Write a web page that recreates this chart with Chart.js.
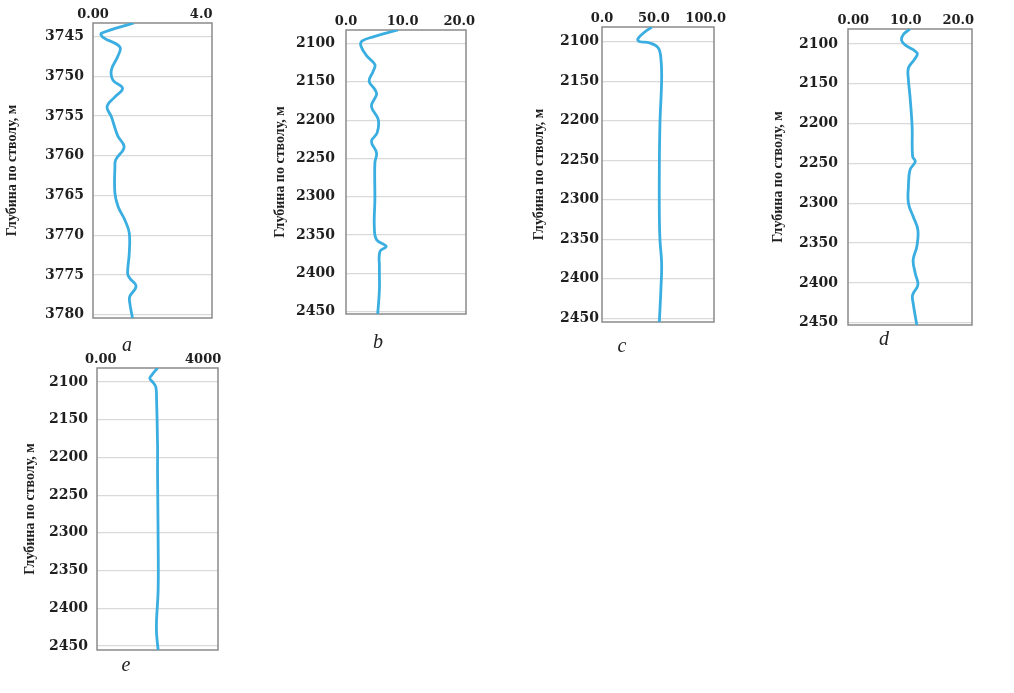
<!DOCTYPE html>
<html>
<head>
<meta charset="utf-8">
<script src="https://cdn.jsdelivr.net/npm/chart.js@4.4.1/dist/chart.umd.min.js"></script>
<style>
  html, body { margin:0; padding:0; background:#ffffff; }
  body { width:1014px; height:693px; position:relative; overflow:hidden; }
  canvas { position:absolute; }
  .lbl { position:absolute; font-family:"Liberation Serif", "Times New Roman", serif; font-style:italic; font-size:20px; color:#222; transform:translate(-50%,-50%); line-height:1; }
</style>
</head>
<body>
<canvas id="ca"></canvas>
<canvas id="cb"></canvas>
<canvas id="cc"></canvas>
<canvas id="cd"></canvas>
<canvas id="ce"></canvas>
<div class="lbl" style="left:127px;top:344px;">a</div>
<div class="lbl" style="left:378px;top:341px;">b</div>
<div class="lbl" style="left:622px;top:345px;">c</div>
<div class="lbl" style="left:884px;top:338px;">d</div>
<div class="lbl" style="left:126px;top:664px;">e</div>
<script>
// ---------- data ----------
const yTitle = "Глубина по стволу, м";

const depthA = [3743.3, 3744.6, 3745.1, 3746.3, 3747.4, 3749.2, 3750.5, 3751.5, 3752.6, 3753.8, 3755.1, 3756.8, 3757.6, 3758.9, 3760.5, 3761.4, 3764.7, 3766.4, 3768.1, 3769.7, 3772.3, 3774.8, 3775.4, 3776.4, 3777.7, 3778.5, 3780.4];
const valueA = [1.51, 0.31, 0.37, 0.99, 0.93, 0.68, 0.74, 1.09, 0.81, 0.52, 0.68, 0.84, 0.93, 1.15, 0.84, 0.81, 0.81, 0.93, 1.18, 1.34, 1.34, 1.28, 1.36, 1.59, 1.36, 1.36, 1.46];
const yTicksA = [3745, 3750, 3755, 3760, 3765, 3770, 3775, 3780];
const xTicksA = [0, 4];
const xLabelsA = ["0.00", "4.0"];

const depthB = [2082.4, 2091.3, 2097, 2103.6, 2116.6, 2127.5, 2136.2, 2149.3, 2160.1, 2166.6, 2182, 2199.3, 2216.7, 2227.6, 2242.8, 2255.8, 2303.8, 2338.6, 2356, 2364.8, 2371.3, 2390.9, 2421.3, 2453];
const valueB = [9.2, 4.8, 2.8, 2.65, 3.7, 5.1, 4.8, 4.1, 5.1, 5.4, 4.5, 5.7, 5.5, 4.5, 5.4, 5.1, 5.1, 5.0, 5.4, 7.1, 6.0, 5.9, 5.9, 5.6];
const depthC = [2081.4, 2089, 2096.6, 2099.7, 2101.7, 2108, 2122.9, 2148.2, 2203, 2258, 2321.6, 2351, 2380.7, 2410.3, 2454.7];
const valueC = [48, 40, 34.5, 36, 46, 54.3, 56.9, 57.5, 55.9, 55.3, 55.3, 55.9, 57.5, 56.9, 55.3];
const depthD = [2081.1, 2088.3, 2095.4, 2100.8, 2107.1, 2112.2, 2119.7, 2130.1, 2144.8, 2165.8, 2203.5, 2241.3, 2247.6, 2258, 2279, 2299.9, 2316.7, 2333.4, 2354.4, 2371.1, 2387.9, 2402.6, 2415.1, 2425.6, 2452.9];
const valueD = [10.8, 9.5, 9.2, 9.8, 11.4, 12.2, 11.6, 10.5, 10.5, 10.8, 11.2, 11.3, 11.8, 10.8, 10.5, 10.5, 11.4, 12.3, 12.1, 11.4, 11.8, 12.3, 11.3, 11.4, 12.1];
const depthE = [2081.5, 2091.2, 2095.5, 2100.8, 2106.6, 2122, 2183.9, 2221.3, 2309.7, 2375.9, 2415.6, 2433.2, 2455.3];
const valueE = [2217, 1982, 1915, 2044, 2150, 2178, 2217, 2217, 2240, 2240, 2178, 2178, 2240];

const yTicksWell = [2100, 2150, 2200, 2250, 2300, 2350, 2400, 2450];
const xTicksB = [0, 10, 20];
const xLabelsB = ["0.0", "10.0", "20.0"];
const xTicksC = [0, 50, 100];
const xLabelsC = ["0.0", "50.0", "100.0"];
const xTicksD = [0, 10, 20];
const xLabelsD = ["0.00", "10.0", "20.0"];
const xTicksE = [0, 4000];
const xLabelsE = ["0.00", "4000"];

// ---------- layout / style ----------
const LINE_COLOR = '#3aaee0';
const GRID_COLOR = '#d9d9d9';
const FRAME_COLOR = '#8a8a8a';

const framePlugin = {
  id: 'frame',
  beforeDatasetsDraw(chart) {
    const {ctx, chartArea: a} = chart;
    ctx.save();
    ctx.strokeStyle = FRAME_COLOR;
    ctx.lineWidth = 1.5;
    ctx.strokeRect(a.left, a.top, a.right - a.left, a.bottom - a.top);
    ctx.restore();
  }
};

function makePanel(id, depths, values, yTicks, xTicks, xLabels, g) {
  const canvas = document.getElementById(id);
  const boxW = g.R - g.L, boxH = g.B - g.T;
  const Wy = g.L - g.cl, Hx = 20;
  const W = Wy + boxW + 20, H = Hx + boxH + 5;
  canvas.width = W; canvas.height = H;
  canvas.style.left = g.cl + 'px';
  canvas.style.top = (g.T - Hx) + 'px';
  canvas.style.width = W + 'px';
  canvas.style.height = H + 'px';
  const pts = depths.map((d, i) => ({x: values[i], y: d}));
  new Chart(canvas, {
    type: 'scatter',
    data: { datasets: [{
      data: pts, showLine: true, borderColor: LINE_COLOR, borderWidth: 2.8,
      pointRadius: 0, tension: 0.4, fill: false
    }]},
    options: {
      responsive: false, animation: false, devicePixelRatio: 1,
      layout: { padding: { left: 0, top: 0, right: 20, bottom: 5 } },
      plugins: { legend: { display: false }, tooltip: { enabled: false } },
      scales: {
        x: {
          type: 'linear', position: 'top', min: g.xmin, max: g.xmax,
          afterBuildTicks: s => { s.ticks = xTicks.map(v => ({value: v})); },
          afterFit: s => { s.height = Hx; s.paddingLeft = 0; s.paddingRight = 0; s.paddingTop = 0; s.paddingBottom = 0; },
          grid: { display: false, drawTicks: false },
          border: { display: false },
          ticks: {
            autoSkip: false, maxRotation: 0, padding: 1,
            font: { family: 'DejaVu Serif', weight: 'bold', size: 13 },
            color: '#1f1f1f',
            callback: (v, i) => xLabels[i]
          }
        },
        y: {
          type: 'linear', position: 'left', reverse: true, min: g.ymin, max: g.ymax,
          afterBuildTicks: s => { s.ticks = yTicks.map(v => ({value: v})); },
          afterFit: s => { s.width = Wy; s.paddingLeft = 0; s.paddingRight = 0; s.paddingTop = 0; s.paddingBottom = 0; },
          grid: { display: true, color: GRID_COLOR, lineWidth: 1.2, drawTicks: false },
          border: { display: false },
          ticks: {
            autoSkip: false, padding: g.tp,
            font: { family: 'DejaVu Serif', weight: 'bold', size: 14 },
            color: '#1f1f1f',
            callback: v => String(v)
          },
          title: {
            display: true, text: yTitle, color: '#1f1f1f',
            font: { family: 'Liberation Serif', weight: 'bold', size: 14, lineHeight: 1.2 },
            padding: { top: 1.5, bottom: 0 }
          }
        }
      }
    },
    plugins: [framePlugin]
  });
}

makePanel('ca', depthA, valueA, yTicksA, xTicksA, xLabelsA,
  {L: 93, R: 212, T: 23, B: 318, cl: 2, tp: 9, xmin: 0, xmax: 4.4, ymin: 3743.3, ymax: 3780.4});
makePanel('cb', depthB, valueB, yTicksWell, xTicksB, xLabelsB,
  {L: 346, R: 466, T: 30, B: 314, cl: 270, tp: 11, xmin: 0, xmax: 21.2, ymin: 2082.4, ymax: 2453});
makePanel('cc', depthC, valueC, yTicksWell, xTicksC, xLabelsC,
  {L: 602, R: 714, T: 27, B: 322, cl: 529, tp: 3, xmin: 0, xmax: 108, ymin: 2081.4, ymax: 2454.7});
makePanel('cd', depthD, valueD, yTicksWell, xTicksD, xLabelsD,
  {L: 848, R: 972, T: 29, B: 325, cl: 768, tp: 10, xmin: -1, xmax: 22.6, ymin: 2081.1, ymax: 2452.9});
makePanel('ce', depthE, valueE, yTicksWell, xTicksE, xLabelsE,
  {L: 97, R: 218, T: 368, B: 650, cl: 20, tp: 9, xmin: -150, xmax: 4580, ymin: 2081.5, ymax: 2455.3});
</script>
</body>
</html>
